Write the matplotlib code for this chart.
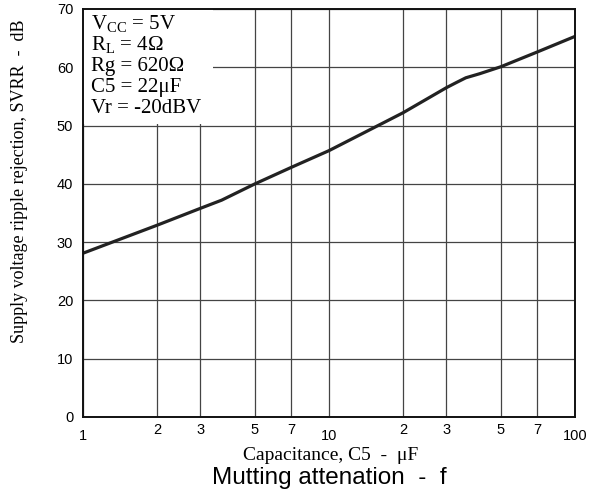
import matplotlib
matplotlib.use("Agg")
import matplotlib.pyplot as plt
from matplotlib.patches import Rectangle
from matplotlib.ticker import FixedLocator

plt.rcParams["mathtext.fontset"] = "custom"
plt.rcParams["mathtext.rm"] = "Liberation Serif"

# curve (capacitance uF -> SVRR dB)
cap = [1, 2, 3, 3.66, 5, 7, 10, 15, 20, 30, 33, 36, 41, 50, 70, 100]
svrr = [28.1, 32.9, 35.8, 37.2, 40.0, 42.8, 45.7, 49.5, 52.2, 56.5, 57.4, 58.2, 58.9, 60.1, 62.6, 65.3]

major_x = [1, 10, 100]
minor_x = [2, 3, 5, 7, 20, 30, 50, 70]
minor_lbl = ["2", "3", "5", "7", "2", "3", "5", "7"]
y_ticks = [0, 10, 20, 30, 40, 50, 60, 70]

cond_lines = ["V$_{\\mathregular{CC}}$ = 5V", "R$_{\\mathregular{L}}$ = 4\u03a9",
              "Rg = 620\u03a9", "C5 = 22\u03bcF", "Vr = -20dBV"]

serif = "Liberation Serif"
sans = "Liberation Sans"

fig = plt.figure(figsize=(6, 4.95), dpi=100)
ax = fig.add_axes([83 / 600, 1 - 417 / 495, 492 / 600, 408 / 495])

ax.set_xscale("log")
ax.set_xlim(1, 100)
ax.set_ylim(0, 70)

ax.xaxis.set_major_locator(FixedLocator(major_x))
ax.xaxis.set_minor_locator(FixedLocator(minor_x))
ax.set_xticklabels(["1", "10", "100"], fontfamily=sans, fontsize=10.5)
ax.set_xticklabels(minor_lbl, minor=True, fontfamily=sans, fontsize=10.5)
ax.set_yticks(y_ticks)
ax.set_yticklabels([str(v) for v in y_ticks], fontfamily=sans, fontsize=10.5)
ax.tick_params(which="both", length=0)
ax.tick_params(axis="x", which="major", pad=8.5)
ax.tick_params(axis="x", which="minor", pad=4.5)
ax.tick_params(axis="y", pad=7)

ax.grid(True, which="both", color="#444444", linewidth=0.9, zorder=1)
ax.set_axisbelow(True)

# white panel for the conditions text
ax.add_patch(Rectangle((1, 50.3), 2.38, 19.7, facecolor="white", edgecolor="none", zorder=2))

ax.plot(cap, svrr, color="#222222", linewidth=2.3, zorder=3)

for i, s in enumerate(cond_lines):
    ax.text(0.016, 0.951 - i * 0.0515, s, transform=ax.transAxes, fontfamily=serif,
            fontsize=15, va="baseline", ha="left", zorder=4)

for sp in ax.spines.values():
    sp.set_linewidth(1.4)
    sp.set_color("#111111")
    sp.set_zorder(5)

fig.text(20 / 600, 1 - 181 / 495, "Supply voltage ripple rejection, SVRR  -  dB", fontfamily=serif,
         fontsize=13, rotation=90, ha="center", va="center")
fig.text(331 / 600, 1 - 460 / 495, "Capacitance, C5  -  \u03bcF", fontfamily=serif, fontsize=14,
         ha="center", va="baseline")
fig.text(329 / 600, 1 - 484 / 495, "Mutting attenation  -  f", fontfamily=sans, fontsize=17.5,
         ha="center", va="baseline")

fig.savefig("out.png", dpi=100)
